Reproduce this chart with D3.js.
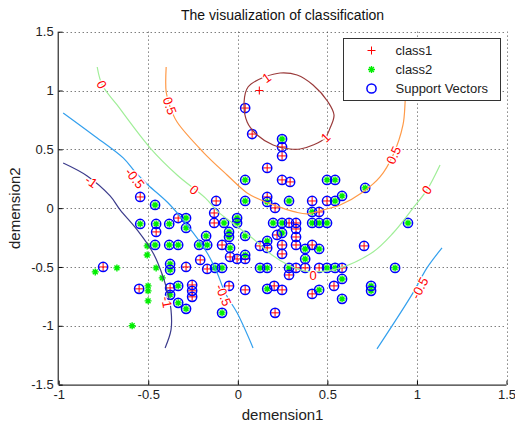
<!DOCTYPE html>
<html><head><meta charset="utf-8">
<script src="https://cdn.jsdelivr.net/npm/d3@7"></script>
<style>body{margin:0;background:#fff}svg{display:block;font-family:"Liberation Sans",Arial,sans-serif}</style>
</head><body><svg id="c" width="515" height="428"></svg>
<script>
const xTicks=[-1,-0.5,0,0.5,1,1.5];
const yTicks=[-1.5,-1,-0.5,0,0.5,1,1.5];
const title="The visualization of classification";
const xLabel="demension1", yLabel="demension2";
const legendLabels=["class1","class2","Support Vectors"];

// class1 points that are not support vectors
const class1Plain=[[0.12,1.0]];
// class2 points that are not support vectors
const class2Plain=[[-0.506,-0.321],[-0.506,-0.398],[-0.796,-0.542],[-0.675,-0.508],[-0.456,-0.508],[-0.422,-0.593],[-0.501,-0.661],[-0.501,-0.703],[-0.501,-0.788],[-0.59,-1.0]];
// class1 support vectors
const class1SV=[[0.041,0.851],[0.08,0.63],[0.247,0.52],[0.247,0.444],[0.164,0.342],[0.247,0.24],[0.292,0.223],[-0.545,0.095],[-0.121,0.061],[0.164,0.095],[0.208,0.002],[0.415,0.061],[0.498,0.061],[0.454,-0.032],[-0.333,-0.084],[-0.132,-0.041],[-0.132,-0.126],[0.286,-0.126],[0.325,-0.126],[0.325,-0.177],[0.325,-0.245],[0.325,-0.313],[0.247,-0.389],[-0.456,-0.202],[-0.088,-0.313],[-0.043,-0.415],[-0.004,-0.432],[0.041,-0.432],[0.124,-0.321],[0.164,-0.338],[0.247,-0.313],[0.415,-0.313],[0.705,-0.321],[-0.752,-0.5],[-0.289,-0.5],[-0.171,-0.517],[0.325,-0.508],[0.376,-0.508],[0.454,-0.508],[0.582,-0.508],[0.286,-0.568],[-0.551,-0.686],[-0.378,-0.678],[-0.255,-0.653],[-0.255,-0.703],[-0.255,-0.754],[-0.21,-0.44],[-0.049,-0.661],[0.041,-0.695],[0.203,-0.661],[0.247,-0.695],[0.208,-0.89],[0.415,-0.729],[0.537,-0.661],[0.219,-0.228]];
// class2 support vectors
const class2SV=[[0.247,0.588],[0.041,0.24],[0.498,0.24],[0.543,0.24],[0.711,0.172],[-0.462,0.027],[0.041,0.061],[0.164,0.053],[0.286,0.061],[0.543,0.061],[0.582,0.104],[0.415,-0.032],[-0.545,-0.134],[-0.456,-0.134],[-0.383,-0.134],[-0.289,-0.084],[-0.289,-0.168],[-0.077,-0.126],[-0.004,-0.084],[-0.004,-0.126],[0.197,-0.126],[0.247,-0.126],[0.247,-0.211],[0.415,-0.126],[0.454,-0.126],[0.498,-0.126],[0.95,-0.126],[-0.177,-0.236],[-0.049,-0.202],[-0.049,-0.245],[0.041,-0.236],[0.164,-0.279],[-0.462,-0.313],[-0.383,-0.313],[-0.333,-0.313],[-0.216,-0.313],[-0.171,-0.313],[-0.043,-0.338],[0.041,-0.398],[0.376,-0.347],[0.454,-0.347],[0.376,-0.432],[-0.378,-0.474],[-0.378,-0.525],[-0.127,-0.508],[-0.088,-0.508],[0.124,-0.508],[0.164,-0.508],[0.286,-0.508],[0.498,-0.508],[0.543,-0.508],[0.878,-0.508],[0.582,-0.602],[-0.378,-0.737],[-0.333,-0.661],[-0.333,-0.805],[-0.289,-0.856],[-0.088,-0.89],[0.164,-0.686],[0.454,-0.695],[0.744,-0.661],[0.744,-0.703],[0.582,-0.771]];

// contour lines of the decision function
const contourM1=[[-0.975,0.384],[-0.841,0.274],[-0.713,0.104],[-0.657,-0.015],[-0.562,-0.185],[-0.473,-0.381],[-0.417,-0.585],[-0.389,-0.737],[-0.373,-0.865],[-0.373,-1.035],[-0.406,-1.188]];
const contourM05a=[[-0.975,0.809],[-0.808,0.622],[-0.64,0.427],[-0.573,0.308],[-0.501,0.197],[-0.378,0.027],[-0.249,-0.211],[-0.171,-0.381],[-0.115,-0.551],[-0.071,-0.72],[-0.004,-0.89],[0.085,-1.188]];
const contourM05b=[[0.777,-1.196],[0.978,-0.72],[1.056,-0.508],[1.14,-0.338]];
const contour0=[[-0.785,1.2],[-0.757,1.047],[-0.674,0.877],[-0.489,0.511],[-0.339,0.282],[-0.182,0.087],[-0.11,-0.032],[-0.015,-0.143],[0.08,-0.253],[0.191,-0.398],[0.281,-0.483],[0.348,-0.525],[0.42,-0.542],[0.571,-0.508],[0.755,-0.372],[0.867,-0.211],[0.979,0.002],[1.056,0.155],[1.129,0.367]];
const contour05=[[-0.4,1.2],[-0.4,0.987],[-0.378,0.86],[-0.339,0.732],[-0.194,0.477],[-0.06,0.282],[0.052,0.129],[0.141,0.061],[0.247,0.002],[0.32,-0.032],[0.387,-0.049],[0.476,-0.015],[0.571,0.027],[0.699,0.138],[0.794,0.265],[0.867,0.452],[0.922,0.707],[0.934,0.902],[0.939,1.089]];
const contour1=[[0.147,1.115],[0.057,1.03],[0.035,0.902],[0.052,0.732],[0.108,0.622],[0.197,0.537],[0.292,0.503],[0.348,0.503],[0.42,0.537],[0.487,0.596],[0.515,0.681],[0.537,0.792],[0.504,0.902],[0.42,1.047],[0.331,1.132],[0.236,1.149],[0.147,1.115]];
const contourLevels=["-1","-0.5","-0.5","0","0.5","1"];
const contourColors=["#3c3c8c","#33a0ee","#33a0ee","#a0ee98","#ff9a48","#9a3a3a"];
// contour labels: [text, x, y, angle]
const contourLabels=[["-1",-0.818,0.225,35],["-1",-0.397,-0.8,80],["-0.5",-0.575,0.255,52],["-0.5",-0.08,-0.74,68],["-0.5",1.015,-0.68,-62],["0",-0.76,1.05,62],["0",-0.243,0.155,40],["0",0.42,-0.57,0],["0",1.055,0.155,-55],["0.5",-0.38,0.87,70],["0.5",0.87,0.45,-65],["1",0.16,1.11,-35],["1",0.49,0.6,-45]];

const svg=d3.select('#c');
const x=d3.scaleLinear().domain([-1,1.5]).range([58.7,506.5]);
const y=d3.scaleLinear().domain([-1.5,1.5]).range([384.6,31.7]);
const [X0,X1]=x.range(), [Y0,Y1]=y.range();

// grid
const grid=svg.append('g').attr('stroke','#444').attr('stroke-width',1).attr('stroke-dasharray','1,3');
grid.selectAll('.gx').data(xTicks.slice(1)).join('line').attr('x1',d=>Math.round(x(d))+0.5).attr('x2',d=>Math.round(x(d))+0.5).attr('y1',Y0).attr('y2',Y1);
grid.selectAll('.gy').data(yTicks.slice(1)).join('line').attr('y1',d=>Math.round(y(d))+0.5).attr('y2',d=>Math.round(y(d))+0.5).attr('x1',X0).attr('x2',X1);

// markers
const g=svg.append('g');
const c1=class1Plain.concat(class1SV), c2=class2Plain.concat(class2SV);
function plus(sel,pts,s,col,w){sel.selectAll(null).data(pts).join('path').attr('d',d=>{const px=x(d[0]),py=y(d[1]);return `M${px-s},${py}H${px+s}M${px},${py-s}V${py+s}`;}).attr('stroke',col).attr('stroke-width',w).attr('fill','none');}
function star(sel,pts,s,col,w){const k=s*0.7;sel.selectAll(null).data(pts).join('path').attr('d',d=>{const px=x(d[0]),py=y(d[1]);return `M${px-s},${py}H${px+s}M${px},${py-s}V${py+s}M${px-k},${py-k}L${px+k},${py+k}M${px-k},${py+k}L${px+k},${py-k}`;}).attr('stroke',col).attr('stroke-width',w).attr('fill','none');}
plus(g.append('g'),c1,4,'#ff0000',1);
star(g.append('g'),c2,3.5,'#00ee00',1.4);
g.append('g').selectAll('circle').data(class1SV.concat(class2SV)).join('circle').attr('cx',d=>x(d[0])).attr('cy',d=>y(d[1])).attr('r',4.6).attr('fill','none').attr('stroke','#0000ff').attr('stroke-width',1.5);

// contours
const line=d3.line().x(d=>x(d[0])).y(d=>y(d[1])).curve(d3.curveCatmullRom);
const contours=[contourM1,contourM05a,contourM05b,contour0,contour05,contour1];
svg.append('g').selectAll('path').data(contours).join('path').attr('d',line).attr('fill','none').attr('stroke',(d,i)=>contourColors[i]).attr('stroke-width',1.2);
svg.append('g').selectAll('text').data(contourLabels).join('text').attr('transform',d=>`translate(${x(d[1])},${y(d[2])}) rotate(${d[3]})`).attr('text-anchor','middle').attr('dy','0.35em').attr('font-size',13).attr('fill','#ff0000').attr('stroke','#fff').attr('stroke-width',2.5).attr('paint-order','stroke').text(d=>d[0]);

// axes
const fmt=d=>String(d);
const ax=svg.append('g').attr('transform',`translate(0,${Y0})`).call(d3.axisBottom(x).tickValues(xTicks).tickFormat(fmt).tickSize(-4).tickPadding(5));
const ay=svg.append('g').attr('transform',`translate(${X0},0)`).call(d3.axisLeft(y).tickValues(yTicks).tickFormat(fmt).tickSize(-4).tickPadding(5));
[ax,ay].forEach(a=>{a.selectAll('text').attr('font-size',13).attr('fill','#222').attr('font-family','"Liberation Sans",Arial,sans-serif');a.select('.domain').attr('stroke','#000');a.selectAll('.tick line').attr('stroke','#000');});
ax.select('.domain').attr('d',`M${X0},0.5H${X1}`);
ay.select('.domain').attr('d',`M-0.5,${Y0}V${Y1}`);

// labels
svg.append('text').attr('x',(X0+X1)/2).attr('y',20).attr('text-anchor','middle').attr('font-size',14).attr('fill','#111').text(title);
svg.append('text').attr('x',(X0+X1)/2).attr('y',420).attr('text-anchor','middle').attr('font-size',15).attr('fill','#222').text(xLabel);
svg.append('text').attr('transform',`translate(20,${(Y0+Y1)/2}) rotate(-90)`).attr('text-anchor','middle').attr('font-size',15).attr('fill','#222').text(yLabel);

// legend
const lg=svg.append('g').attr('transform','translate(343.5,38.5)');
lg.append('rect').attr('width',157).attr('height',62).attr('fill','#fff').attr('stroke','#333').attr('stroke-width',1);
const rows=lg.selectAll('.row').data(legendLabels).join('g').attr('transform',(d,i)=>`translate(0,${12+i*19})`);
rows.append('text').attr('x',52).attr('dy','0.35em').attr('font-size',13).attr('fill','#222').text(d=>d);
const m=rows.append('g').attr('transform','translate(28,0)');
m.filter((d,i)=>i===0).append('path').attr('d','M-4,0H4M0,-4V4').attr('stroke','#ff0000').attr('fill','none');
m.filter((d,i)=>i===1).append('path').attr('d','M-3.5,0H3.5M0,-3.5V3.5M-2.4,-2.4L2.4,2.4M-2.4,2.4L2.4,-2.4').attr('stroke','#00ee00').attr('stroke-width',1.4).attr('fill','none');
m.filter((d,i)=>i===2).append('circle').attr('r',4.6).attr('fill','none').attr('stroke','#0000ff').attr('stroke-width',1.5);
</script></body></html>
